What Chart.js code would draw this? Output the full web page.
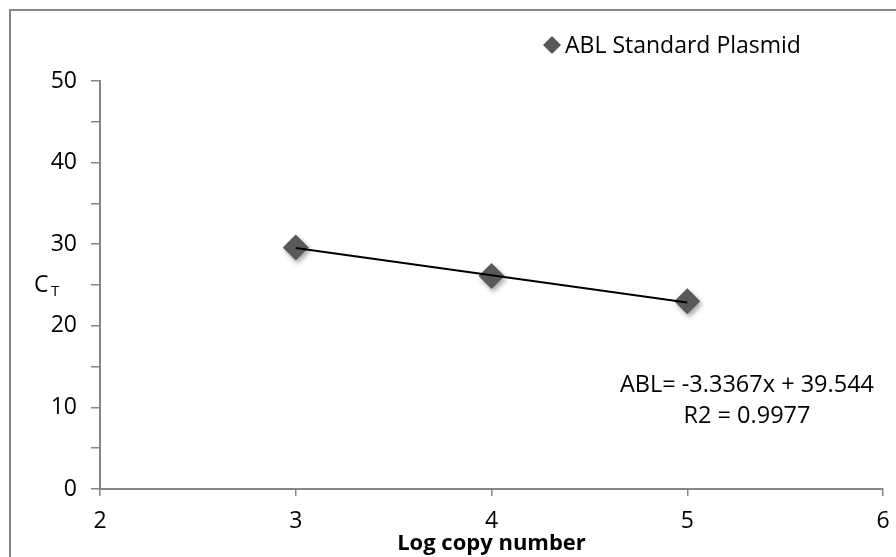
<!DOCTYPE html>
<html>
<head>
<meta charset="utf-8">
<script src="https://cdn.jsdelivr.net/npm/chart.js@4.4.1/dist/chart.umd.min.js"></script>
<style>
  html, body { margin: 0; padding: 0; background: #fff; }
  #wrap { width: 896px; height: 557px; }
</style>
</head>
<body>
<div id="wrap"><canvas id="chart-ct" width="896" height="557"></canvas></div>
<script>
// ABL standard curve
// -----------------------------------

var logCopies = [3, 4, 5];
var ctValues = [29.6, 26.1, 23.0];
var trendX = [3, 5];
var trendY = [29.53, 22.86];
var xTicks = [2, 3, 4, 5, 6];
var yTicks = [0, 10, 20, 30, 40, 50];
var seriesName = 'ABL Standard Plasmid';
var fitLines = ['ABL= -3.3367x + 39.544', 'R2 = 0.9977'];

var FONT = '"Open Sans", "Noto Sans", sans-serif';
var AXIS_GREY = '#868686';
var MARK_GREY = '#595959';

(function () {
    'use strict';

    var points = logCopies.map(function (x, i) { return { x: x, y: ctValues[i] }; });
    var trend = trendX.map(function (x, i) { return { x: x, y: trendY[i] }; });

    // frame, legend, y title and fit text
    var extras = {
        id: 'extras',
        beforeDraw: function (chart) {
            var ctx = chart.ctx;
            ctx.save();
            ctx.strokeStyle = AXIS_GREY;
            ctx.lineWidth = 2;
            ctx.beginPath();
            ctx.moveTo(10, 557);
            ctx.lineTo(10, 10);
            ctx.lineTo(896, 10);
            ctx.stroke();
            ctx.restore();
        },
        afterDraw: function (chart) {
            var ctx = chart.ctx;
            ctx.save();
            // legend
            ctx.fillStyle = MARK_GREY;
            ctx.beginPath();
            ctx.moveTo(552, 45 - 9);
            ctx.lineTo(552 + 9, 45);
            ctx.lineTo(552, 45 + 9);
            ctx.lineTo(552 - 9, 45);
            ctx.closePath();
            ctx.fill();
            ctx.fillStyle = '#000';
            ctx.font = '23px ' + FONT;
            ctx.textBaseline = 'middle';
            ctx.textAlign = 'left';
            ctx.fillText(chart.data.datasets[1].label, 565, 46);

            // y title C with subscript T
            ctx.font = '23px ' + FONT;
            ctx.fillText('C', 34, 285);
            ctx.font = '15px ' + FONT;
            ctx.fillText('T', 51, 292);

            // fit equation
            ctx.font = '23.5px ' + FONT;
            ctx.textAlign = 'center';
            ctx.fillText(fitLines[0], 747, 385);
            ctx.fillText(fitLines[1], 747, 416);
            ctx.restore();
        },
        beforeDatasetDraw: function (chart, args) {
            if (args.index !== 1) return;
            var ctx = chart.ctx;
            ctx.save();
            ctx.shadowColor = 'rgba(0,0,0,0.35)';
            ctx.shadowBlur = 5;
            ctx.shadowOffsetX = 2;
            ctx.shadowOffsetY = 3;
        },
        afterDatasetDraw: function (chart, args) {
            if (args.index !== 1) return;
            chart.ctx.restore();
        }
    };

    var ctx = document.getElementById('chart-ct').getContext('2d');
    new Chart(ctx, {
        type: 'scatter',
        data: {
            datasets: [{
                label: 'trend',
                type: 'line',
                data: trend,
                borderColor: '#000',
                borderWidth: 2,
                pointRadius: 0,
                fill: false,
                order: 0
            }, {
                label: seriesName,
                data: points,
                pointStyle: 'rectRot',
                pointRadius: 13,
                pointHoverRadius: 13,
                backgroundColor: MARK_GREY,
                borderColor: MARK_GREY,
                borderWidth: 0,
                order: 1
            }]
        },
        plugins: [extras],
        options: {
            responsive: false,
            animation: false,
            layout: { padding: { left: 0, top: 81, right: 10, bottom: 0 } },
            plugins: {
                legend: { display: false },
                tooltip: { enabled: false }
            },
            scales: {
                x: {
                    type: 'linear',
                    min: xTicks[0],
                    max: xTicks[xTicks.length - 1],
                    afterBuildTicks: function (scale) {
                        scale.ticks = xTicks.map(function (v) { return { value: v }; });
                    },
                    afterFit: function (scale) {
                        scale.height = 68;
                        scale.paddingLeft = 0;
                        scale.paddingRight = 0;
                    },
                    grid: { drawOnChartArea: false, drawTicks: true, tickLength: 7, color: AXIS_GREY, lineWidth: 1.5 },
                    border: { display: true, color: AXIS_GREY, width: 2 },
                    ticks: { color: '#000', font: { family: FONT, size: 23 }, padding: 12, autoSkip: false, maxRotation: 0 },
                    title: {
                        display: true,
                        text: 'Log copy number',
                        color: '#000',
                        font: { family: FONT, size: 22, weight: 'bold' },
                        padding: { top: 0, bottom: 0 }
                    }
                },
                y: {
                    min: yTicks[0],
                    max: yTicks[yTicks.length - 1],
                    ticks: {
                        stepSize: 5,
                        color: '#000',
                        font: { family: FONT, size: 23 },
                        padding: 14,
                        callback: function (v) { return yTicks.indexOf(v) >= 0 ? String(v) : ''; }
                    },
                    afterFit: function (scale) { scale.width = 100; },
                    grid: { drawOnChartArea: false, drawTicks: true, tickLength: 9, color: AXIS_GREY, lineWidth: 1.5 },
                    border: { display: true, color: AXIS_GREY, width: 2 }
                }
            }
        }
    });
})();
</script>
</body>
</html>
